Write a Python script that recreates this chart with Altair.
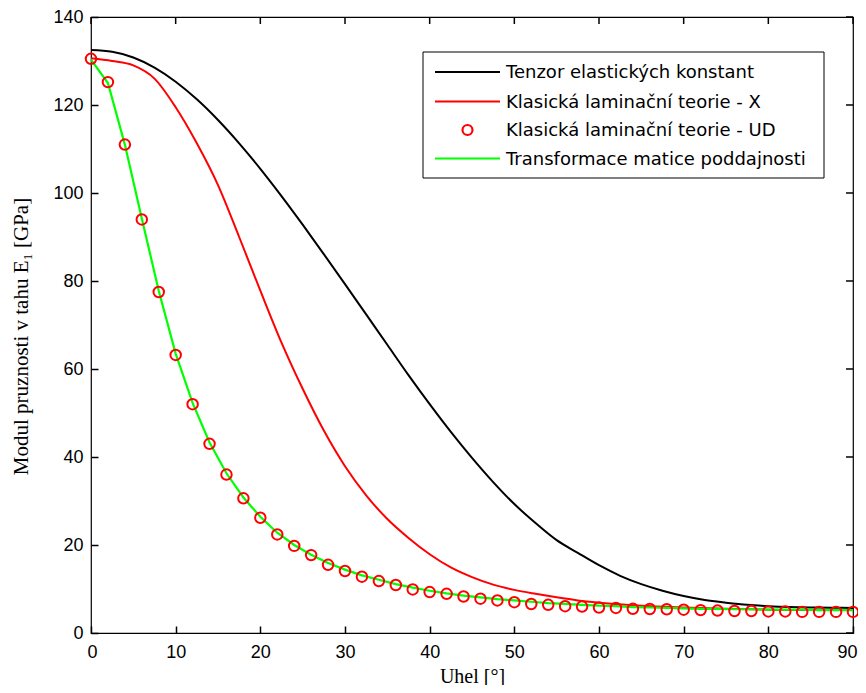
import altair as alt
import pandas as pd

# ---- data ----
black_x = [0, 2.5, 5, 7.5, 10, 12.5, 15, 17.5, 20, 22.5, 25, 27.5, 30, 32.5, 35, 37.5, 40,
           42.5, 45, 47.5, 50, 52.5, 55, 57.5, 60, 62.5, 65, 67.5, 70, 72.5, 75, 77.5, 80,
           82.5, 85, 87.5, 90]
black_y = [132.5, 132.1, 130.8, 128.5, 125.3, 121.3, 116.6, 111.3, 105.5, 99.3, 92.8, 86.1,
           79.3, 72.4, 65.5, 58.6, 52.0, 45.7, 39.8, 34.3, 29.3, 25.0, 21.1, 18.2, 15.4,
           13.0, 11.1, 9.6, 8.4, 7.5, 6.9, 6.4, 6.1, 5.9, 5.8, 5.75, 5.7]

red_x = [0, 2.5, 5, 7.5, 10, 12.5, 15, 17.5, 20, 22.5, 25, 27.5, 30, 32.5, 35, 37.5, 40, 42.5,
         45, 47.5, 50, 52.5, 55, 57.5, 60, 65, 70, 75, 80, 85, 90]
red_y = [130.6, 130.0, 129.0, 126.0, 119.5, 111.3, 101.8, 90.0, 77.8, 66.0, 55.5, 46.0, 37.9,
         31.3, 25.9, 21.6, 17.9, 14.9, 12.7, 11.0, 9.8, 8.9, 8.1, 7.4, 6.9, 6.2, 5.8, 5.5,
         5.3, 5.2, 5.2]

ud_x = list(range(0, 91, 2))
ud_y = [130.5, 125.2, 111.0, 94.0, 77.5, 63.2, 52.0, 43.0, 36.0, 30.6, 26.2, 22.4, 19.8, 17.7,
        15.5, 14.1, 12.8, 11.8, 10.9, 9.9, 9.3, 8.9, 8.3, 7.8, 7.4, 7.0, 6.6, 6.4, 6.1, 6.0,
        5.8, 5.7, 5.5, 5.45, 5.4, 5.3, 5.2, 5.1, 5.0, 5.0, 4.9, 4.9, 4.8, 4.8, 4.8, 4.8]

green_x = list(range(0, 91, 2))
green_y = [130.3, 125.0, 111.0, 94.2, 77.8, 63.5, 52.3, 43.3, 36.3, 30.8, 26.4, 22.8, 20.0,
           17.8, 15.9, 14.4, 13.1, 12.1, 11.1, 10.3, 9.6, 9.0, 8.5, 8.1, 7.7, 7.4, 7.1, 6.8,
           6.6, 6.4, 6.2, 6.1, 5.9, 5.8, 5.7, 5.6, 5.5, 5.5, 5.4, 5.4, 5.3, 5.3, 5.3, 5.2,
           5.2, 5.2]

legend_labels = ["Tenzor elastických konstant",
                 "Klasická laminační teorie - X",
                 "Klasická laminační teorie - UD",
                 "Transformace matice poddajnosti"]
legend_colors = ["#000000", "#ff0000", "#ff0000", "#00ff00"]
legend_kind = ["line", "line", "point", "line"]

x_ticks = [0, 10, 20, 30, 40, 50, 60, 70, 80, 90]
y_ticks = [0, 20, 40, 60, 80, 100, 120, 140]

x_title = "Uhel [°]"
y_title = "Modul pruznosti v tahu  E₁ [GPa]"

# ---- layout ----
W, H = 762, 616
TICK = 7
TW = 1.5

xs = alt.Scale(domain=[0, 90], nice=False, zero=False)
ys = alt.Scale(domain=[0, 140], nice=False, zero=False)

# bottom/left axes pulled inside the frame by the tick length -> inward ticks
common = dict(grid=False, domain=False, ticks=True, tickSize=TICK, tickWidth=TW,
              tickColor="#000000", tickOpacity=1, offset=-TICK, labelOverlap=False)

x_axis = alt.Axis(values=x_ticks, orient="bottom", title=x_title,
                  labelFlush=True, labelFlushOffset=4,
                  labelFont="Liberation Sans", labelFontSize=18, labelPadding=10,
                  labelColor="#000000", titleFont="Liberation Serif", titleFontSize=20,
                  titleFontWeight="normal", titleColor="#000000",
                  titleBaseline="alphabetic", titleY=49 + TICK, **common)
y_axis = alt.Axis(values=y_ticks, orient="left", title=y_title, labelFlush=False,
                  labelFont="Liberation Sans", labelFontSize=18, labelPadding=8,
                  labelColor="#000000", titleFont="Liberation Serif", titleFontSize=21,
                  titleFontWeight="normal", titleColor="#000000", titleAngle=270,
                  titleBaseline="alphabetic", titleX=-64 - TICK, titleY=319,
                  titleAnchor="middle", **common)

X = alt.X("x:Q", scale=xs, axis=x_axis)
Y = alt.Y("y:Q", scale=ys, axis=y_axis)

df_black = pd.DataFrame({"x": black_x, "y": black_y})
df_red = pd.DataFrame({"x": red_x, "y": red_y})
df_ud = pd.DataFrame({"x": ud_x, "y": ud_y})
df_green = pd.DataFrame({"x": green_x, "y": green_y})

black = alt.Chart(df_black).mark_line(color="#000000", strokeWidth=2,
                                      interpolate="monotone").encode(x=X, y=Y)
red = alt.Chart(df_red).mark_line(color="#ff0000", strokeWidth=2,
                                  interpolate="monotone").encode(x=X, y=Y)
green = alt.Chart(df_green).mark_line(color="#00ff00", strokeWidth=2.2).encode(x=X, y=Y)
ud = alt.Chart(df_ud).mark_point(shape="circle", size=110, color="#ff0000", filled=False,
                                 strokeWidth=2, opacity=1).encode(x=X, y=Y)

# top and right inward ticks as short rules
dxt = pd.DataFrame({"x": x_ticks})
dyt = pd.DataFrame({"y": y_ticks})
top_ticks = alt.Chart(dxt).mark_rule(color="#000000", strokeWidth=TW, opacity=1).encode(
    x=X, y=alt.value(0), y2=alt.value(TICK))
right_ticks = alt.Chart(dyt).mark_rule(color="#000000", strokeWidth=TW, opacity=1).encode(
    y=Y, x=alt.value(W - TICK), x2=alt.value(W))

one = pd.DataFrame({"a": [0]})

# manual legend
LX0, LX1, LY0, LY1 = 332, 733, 35, 161
entry_y = [55, 84.5, 113, 141.5]
legend_layers = [
    alt.Chart(one).mark_rect(fill="#ffffff", stroke="#000000", strokeWidth=1).encode(
        x=alt.value(LX0), x2=alt.value(LX1), y=alt.value(LY0), y2=alt.value(LY1))
]
for lab, col, kind, ey in zip(legend_labels, legend_colors, legend_kind, entry_y):
    if kind == "line":
        legend_layers.append(
            alt.Chart(one).mark_rule(color=col, strokeWidth=2.2).encode(
                x=alt.value(344), x2=alt.value(409), y=alt.value(ey)))
    else:
        legend_layers.append(
            alt.Chart(one).mark_point(shape="circle", size=100, color=col, filled=False,
                                      strokeWidth=2.2, opacity=1).encode(
                x=alt.value(376.5), y=alt.value(ey)))
    legend_layers.append(
        alt.Chart(pd.DataFrame({"t": [lab]})).mark_text(
            align="left", baseline="middle", font="DejaVu Sans", fontSize=18,
            color="#000000").encode(x=alt.value(415), y=alt.value(ey + 1), text="t:N"))

chart = alt.layer(
    black, red, green, ud, top_ticks, right_ticks, *legend_layers
).properties(
    width=W, height=H,
    autosize=alt.AutoSizeParams(type="none"),
    padding={"left": 83, "top": 9, "right": 5, "bottom": 52},
    background="#ffffff",
).configure_view(stroke="#000000", strokeWidth=1.2)

chart.save("out.html", embed_options={"renderer": "svg", "actions": False})
